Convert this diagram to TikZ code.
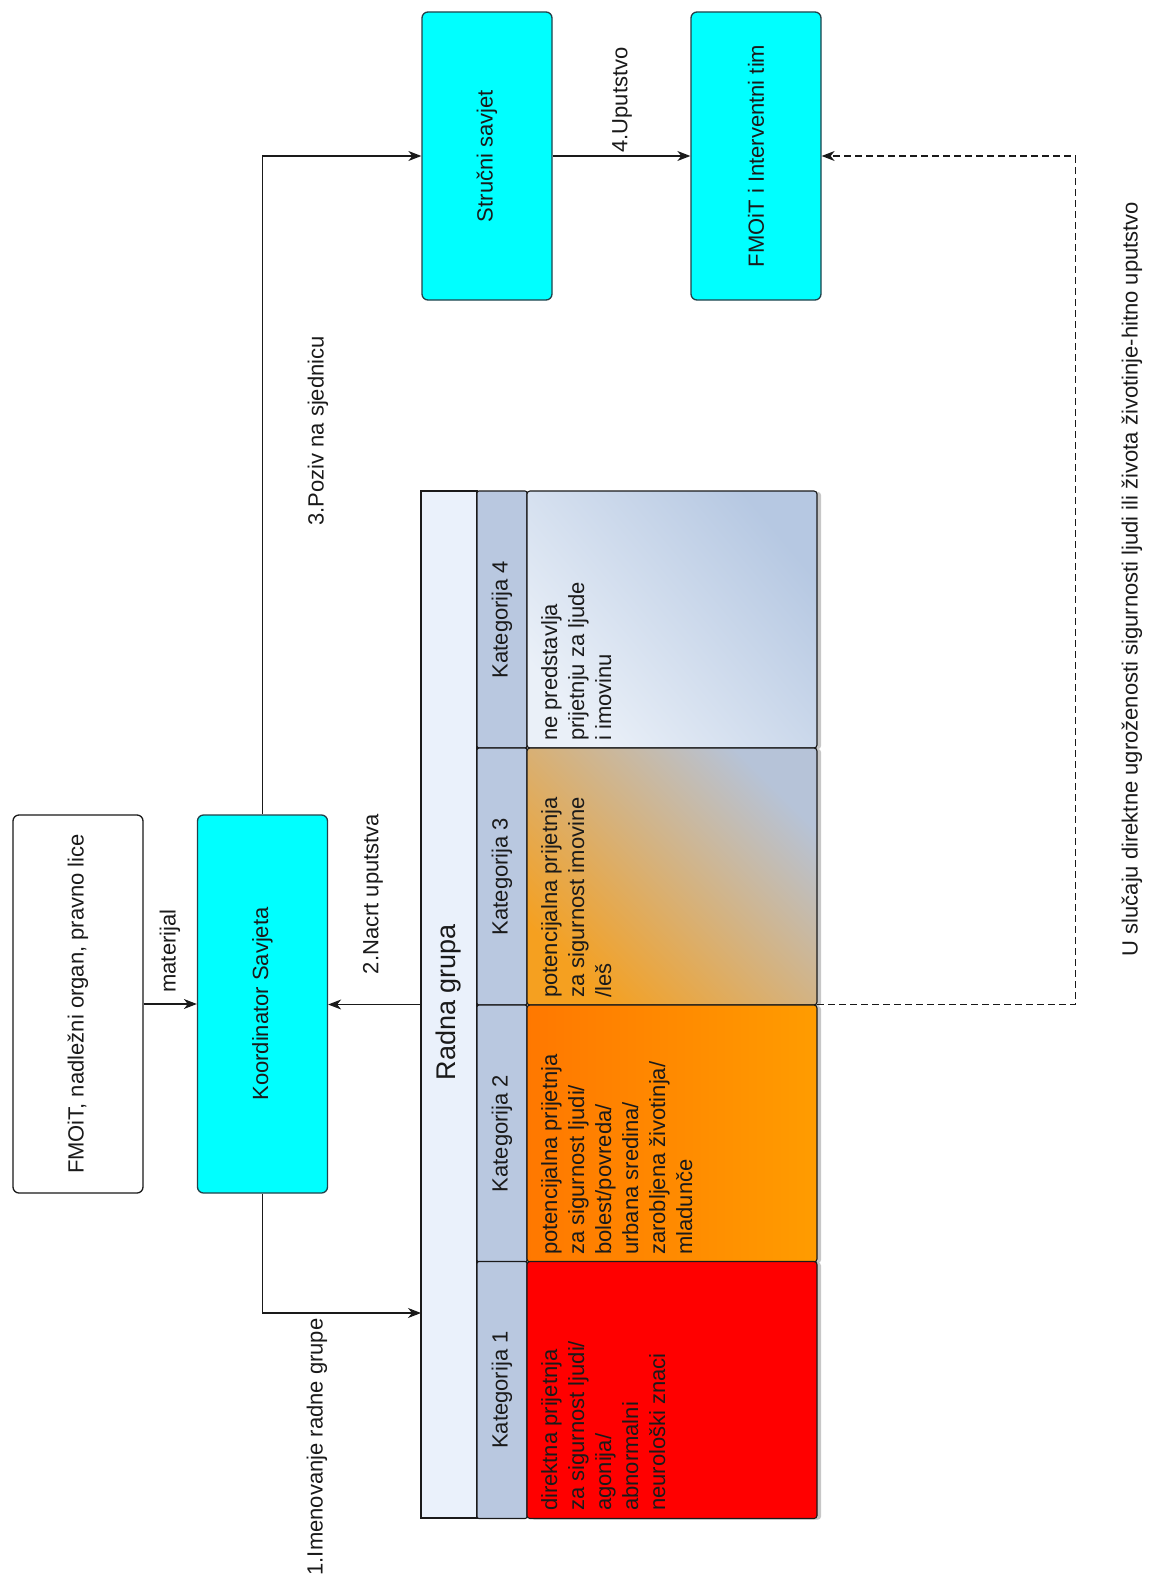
\documentclass[tikz,border=0pt]{standalone}
\usepackage{fontspec}
\setmainfont{Liberation Sans}
\usetikzlibrary{arrows.meta,shadows}
\definecolor{cyanfill}{HTML}{00FFFF}
\definecolor{cyanborder}{HTML}{23414A}
\definecolor{titlefill}{HTML}{EAF1FB}
\definecolor{headfill}{HTML}{B9C8E0}
\definecolor{katred}{HTML}{FF0000}
\definecolor{kattwoL}{HTML}{FF7800}
\definecolor{kattwoR}{HTML}{FF9C00}
\definecolor{katthreeA}{HTML}{F5A020}
\definecolor{katthreeB}{HTML}{B6C3D8}
\definecolor{katfourA}{HTML}{EAF0F8}
\definecolor{katfourB}{HTML}{B6C8E2}
\definecolor{txtdark}{HTML}{1A1A1A}
\definecolor{lineclr}{HTML}{1A1A1A}
\begin{document}
\begin{tikzpicture}[x=1pt,y=-1pt,
  every node/.style={font=\fontsize{22}{27}\selectfont, inner sep=0pt, text=txtdark},
  cbox/.style={draw=cyanborder, fill=cyanfill, rounded corners=6pt, line width=1.3pt,
    minimum width=130pt, minimum height=288pt},
  wbox/.style={draw=lineclr, fill=white, rounded corners=6pt, line width=1.3pt,
    minimum width=130pt, minimum height=378pt},
  headcell/.style={draw=lineclr, fill=headfill, rounded corners=2pt, line width=1.1pt,
    minimum width=50pt, minimum height=257pt},
  contcell/.style={draw=lineclr, rounded corners=3pt, line width=1.1pt,
    minimum width=290pt, minimum height=257pt,
    drop shadow={shadow xshift=4pt, shadow yshift=-1pt, opacity=0.22, fill=black}},
  celltext/.style={rotate=90, anchor=north west, align=left},
  lbl/.style={rotate=90},
  arr/.style={draw=lineclr, line width=1.2pt, -{Stealth[length=13pt,width=10pt,inset=4pt]}},
]
\useasboundingbox (0,0) rectangle (1150,1579);
\fill[white] (0,0) rectangle (1150,1579);

% main boxes
\node[wbox] (fmoit) at (78,1004) {\rotatebox{90}{FMOiT, nadležni organ, pravno lice}};
\node[cbox, minimum height=378pt] (kor) at (262.5,1004) {\rotatebox{90}{Koordinator Savjeta}};
\node[cbox] (strucni) at (487,156) {\rotatebox{90}{Stručni savjet}};
\node[cbox] (fmint) at (756,156) {\rotatebox{90}{FMOiT i Interventni tim}};

% Radna grupa
\node[minimum width=396pt, minimum height=1027pt] (radna) at (619,1004.5) {};
\node[draw=lineclr, fill=titlefill, line width=1.1pt, minimum width=56pt, minimum height=1027pt] (rg) at (449,1004.5) {};
\node[rotate=90, font=\fontsize{27}{32}\selectfont] (rgt) at (449,1002) {Radna grupa};

% header cells
\node[headcell] (kh4) at (502,619.5) {\rotatebox{90}{Kategorija 4}};
\node[headcell] (kh3) at (502,876.5) {\rotatebox{90}{Kategorija 3}};
\node[headcell] (kh2) at (502,1133.5) {\rotatebox{90}{Kategorija 2}};
\node[headcell] (kh1) at (502,1390) {\rotatebox{90}{Kategorija 1}};

% content cells
\node[contcell, shading=axis, top color=katfourB, bottom color=katfourA, shading angle=-50] (kc4) at (672,619.5) {};
\node[contcell, shading=axis, top color=katthreeB, bottom color=katthreeA, shading angle=-45] (kc3) at (672,876.5) {};
\node[contcell, left color=kattwoL, right color=kattwoR] (kc2) at (672,1133.5) {};
\node[contcell, fill=katred] (kc1) at (672,1390) {};

% cell texts
\node[celltext] (kt4) at (541,741) {ne predstavlja\\prijetnju za ljude\\i imovinu};
\node[celltext] (kt3) at (541,998) {potencijalna prijetnja\\za sigurnost imovine\\/leš};
\node[celltext] (kt2) at (541,1255) {potencijalna prijetnja\\za sigurnost ljudi/\\bolest/povreda/\\urbana sredina/\\zarobljena životinja/\\mladunče};
\node[celltext] (kt1) at (541,1511) {direktna prijetnja\\za sigurnost ljudi/\\agonija/\\abnormalni\\neurološki znaci};

% connectors
\coordinate (imen) at (421,1313);
\draw[arr] (fmoit) -- (kor);
\draw[arr] (radna.west) -- (radna.west -| kor.east);
\draw[arr] (kor.north) |- (strucni.west);
\draw[arr] (strucni) -- (fmint);
\draw[arr] (kor.south) |- (imen);
\draw[arr, dash pattern=on 7pt off 4pt] (radna.east) -- ++(258,0) |- (fmint.east);

% labels
\node[lbl] (lmat) at (170,951) {materijal};
\node[lbl] (lnac) at (373,894) {2.Nacrt uputstva};
\node[lbl] (lpoz) at (318,431) {3.Poziv na sjednicu};
\node[lbl] (lupu) at (622,100) {4.Uputstvo};
\node[lbl] (limen) at (317,1447) {1.Imenovanje radne grupe};
\node[lbl] (lhit) at (1132,579) {U slučaju direktne ugroženosti sigurnosti ljudi ili života životinje-hitno uputstvo};
\end{tikzpicture}
\end{document}
